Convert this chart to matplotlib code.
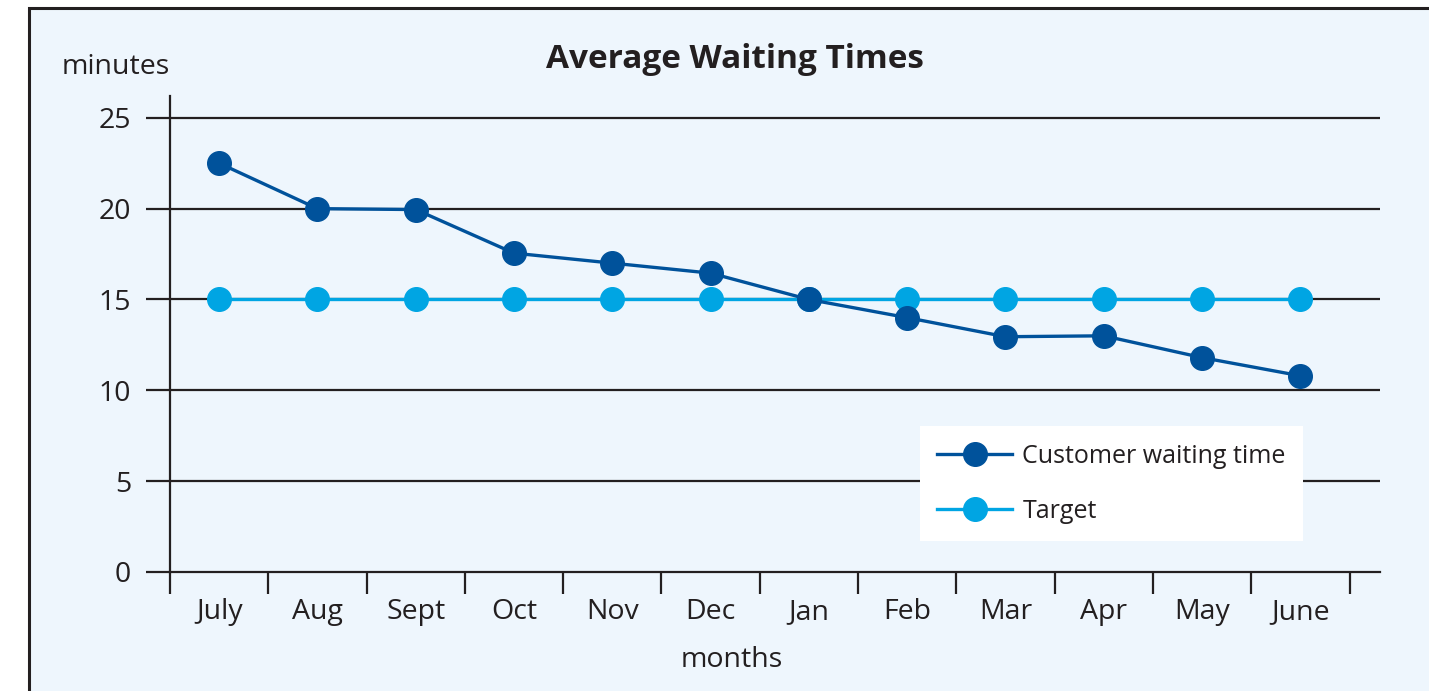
import matplotlib.pyplot as plt
from matplotlib.patches import Rectangle

months = ["July", "Aug", "Sept", "Oct", "Nov", "Dec", "Jan", "Feb", "Mar", "Apr", "May", "June"]
waiting = [22.5, 20.0, 19.95, 17.55, 17.0, 16.45, 15.0, 14.0, 12.95, 13.0, 11.8, 10.8]
target = [15] * 12
yticks = [0, 5, 10, 15, 20, 25]

dark = "#00529b"
light = "#00a5e3"
ink = "#231f20"
bg = "#eef6fd"

plt.rcParams['font.family'] = ['Open Sans', 'DejaVu Sans']

fig = plt.figure(figsize=(14.29, 6.91), dpi=100)
fig.patch.set_facecolor("white")
# framed panel
fig.patches.append(Rectangle((29 / 1429, -0.2), 1.2, 1.2 - 8 / 691,
                             transform=fig.transFigure, facecolor=bg,
                             edgecolor=ink, linewidth=2.2, zorder=-10))

ax = fig.add_axes([170 / 1429, 1 - 572 / 691, 1210 / 1429, 476 / 691])
ax.set_facecolor("none")

x = range(len(months))
for y in yticks[1:]:
    ax.axhline(y, color=ink, lw=1.6, zorder=1)

ax.plot(x, target, color=light, lw=2.4, marker="o", ms=17, zorder=3, label="Target")
ax.plot(x, waiting, color=dark, lw=2.4, marker="o", ms=17, zorder=4, label="Customer waiting time")

ax.set_xlim(-0.5, 11.81)
ax.set_ylim(0, 26.2)

for s in ["top", "right"]:
    ax.spines[s].set_visible(False)
for s in ["left", "bottom"]:
    ax.spines[s].set_color(ink)
    ax.spines[s].set_linewidth(1.6)

ax.set_yticks(yticks)
ax.set_yticklabels([str(v) for v in yticks])
ax.tick_params(axis="y", length=17, width=1.6, color=ink, pad=11, labelsize=20.5, labelcolor=ink)
ax.set_xticks([i - 0.5 for i in range(13)])
ax.set_xticklabels([])
ax.set_xticks(list(x), minor=True)
ax.set_xticklabels(months, minor=True)
ax.tick_params(axis="x", which="major", length=16, width=1.6, color=ink)
ax.tick_params(axis="x", which="minor", length=0, pad=19, labelsize=20.5, labelcolor=ink)

handles, labels = ax.get_legend_handles_labels()
leg = ax.legend(handles[::-1], labels[::-1], loc="upper left",
                bbox_to_anchor=(0.6198, 0.3067), borderaxespad=0,
                frameon=True, fancybox=False, fontsize=18, handlelength=3.0,
                labelspacing=1.2, borderpad=0.7, handletextpad=0.4)
leg.get_frame().set_facecolor("white")
leg.get_frame().set_edgecolor("none")
leg.get_frame().set_alpha(1)
for t in leg.get_texts():
    t.set_color(ink)

fig.text(735 / 1429, 1 - 60 / 691, "Average Waiting Times", ha="center", va="center",
         fontsize=24, fontweight="bold", color=ink)
fig.text(116 / 1429, 1 - 67 / 691, "minutes", ha="center", va="center", fontsize=20.5, color=ink)
fig.text(732 / 1429, 1 - 660 / 691, "months", ha="center", va="center", fontsize=20.5, color=ink)

fig.savefig("out.png", dpi=100, facecolor="white")
